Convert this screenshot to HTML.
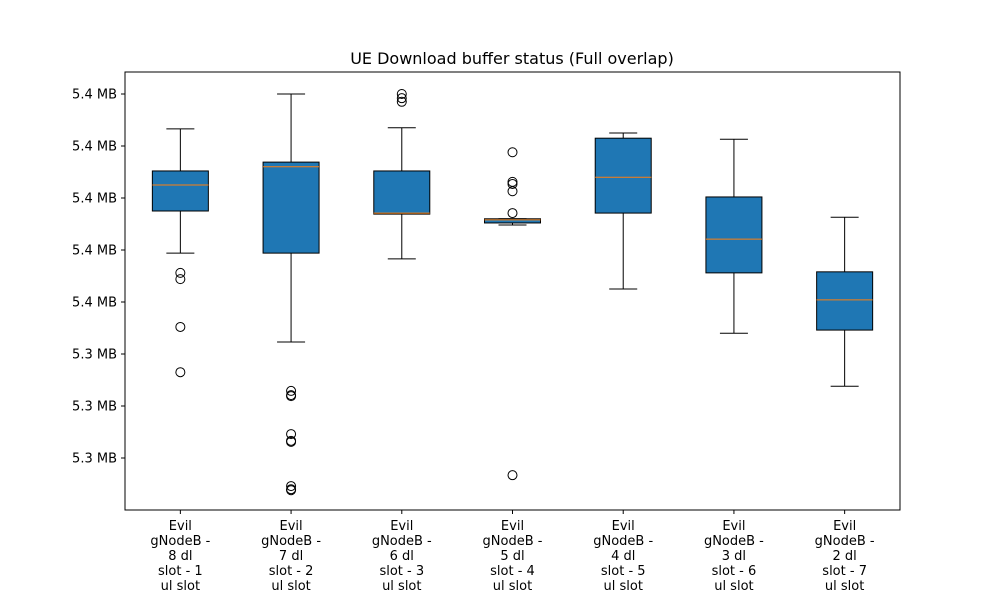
<!DOCTYPE html>
<html><head><meta charset="utf-8"><style>
body{margin:0;background:#fff;font-family:"Liberation Sans","DejaVu Sans",sans-serif}
</style></head><body>
<svg id="chart" width="1000" height="600" xmlns="http://www.w3.org/2000/svg" font-family="'DejaVu Sans','Liberation Sans',sans-serif">
<rect width="1000" height="600" fill="#fff"/>
<text x="512" y="64" text-anchor="middle" font-size="16">UE Download buffer status (Full overlap)</text>
<g id="plot"></g>
</svg>
<script>
const categories=[["Evil","gNodeB -","8 dl","slot - 1","ul slot"],["Evil","gNodeB -","7 dl","slot - 2","ul slot"],["Evil","gNodeB -","6 dl","slot - 3","ul slot"],["Evil","gNodeB -","5 dl","slot - 4","ul slot"],["Evil","gNodeB -","4 dl","slot - 5","ul slot"],["Evil","gNodeB -","3 dl","slot - 6","ul slot"],["Evil","gNodeB -","2 dl","slot - 7","ul slot"]];
const whiskerHigh=[6.33,7.0,6.35,4.6,6.25,6.13,4.63];
const q3=[5.52,5.69,5.52,4.6,6.15,5.02,3.58];
const medians=[5.25,5.6,4.71,4.58,5.4,4.21,3.04];
const q1=[4.75,3.94,4.69,4.52,4.71,3.56,2.46];
const whiskerLow=[3.94,2.23,3.83,4.48,3.25,2.4,1.38];
const outliers=[[3.56,3.44,2.52,1.65],[1.29,1.21,1.19,0.46,0.33,0.31,-0.54,-0.6,-0.62],[7.0,6.92,6.85],[5.88,5.31,5.27,5.13,4.71,-0.33],[],[],[]];
const yTickValues=[0,1,2,3,4,5,6,7];
const yTickLabels=["5.3 MB","5.3 MB","5.3 MB","5.4 MB","5.4 MB","5.4 MB","5.4 MB","5.4 MB"];
const L=125,R=900,T=72,B=510,yMin=-1.0,yMax=7.423;
const y=v=>B-(v-yMin)/(yMax-yMin)*(B-T);
const step=(R-L)/categories.length;
const x=i=>L+step*(i+0.5);
const NS="http://www.w3.org/2000/svg";
const g=document.getElementById('plot');
function mk(t,a,p){const e=document.createElementNS(NS,t);for(const k in a)e.setAttribute(k,a[k]);(p||g).appendChild(e);return e;}
categories.forEach((c,i)=>{
 const cx=x(i),hw=28,cw=14;
 const grp=mk('g',{});
 
 
 mk('line',{x1:cx,x2:cx,y1:y(whiskerHigh[i]),y2:y(q3[i]),stroke:'#000'},grp);
 mk('line',{x1:cx,x2:cx,y1:y(q1[i]),y2:y(whiskerLow[i]),stroke:'#000'},grp);
 mk('line',{x1:cx-cw,x2:cx+cw,y1:y(whiskerHigh[i]),y2:y(whiskerHigh[i]),stroke:'#000'},grp);
 mk('line',{x1:cx-cw,x2:cx+cw,y1:y(whiskerLow[i]),y2:y(whiskerLow[i]),stroke:'#000'},grp);
 mk('rect',{x:cx-hw,y:y(q3[i]),width:2*hw,height:Math.max(1,y(q1[i])-y(q3[i])),fill:'#1f77b4',stroke:'#000'},grp);
 mk('line',{x1:cx-hw,x2:cx+hw,y1:y(medians[i]),y2:y(medians[i]),stroke:'#ff7f0e'},grp);
 outliers[i].forEach(o=>{const ci=mk('circle',{cx:cx,cy:y(o),r:4.5,fill:'none',stroke:'#000'},grp);
  
  });
 mk('line',{x1:cx,x2:cx,y1:B,y2:B+4,stroke:'#000'});
 const t=mk('text',{x:cx,y:B+20,'text-anchor':'middle','font-size':13});
 
 
 c.forEach((ln,j)=>{const s=mk('tspan',{x:cx,dy:j?15:0},t);s.textContent=ln;});
});
yTickValues.forEach((v,i)=>{
 mk('line',{x1:L-4,x2:L,y1:y(v),y2:y(v),stroke:'#000'});
 const t=mk('text',{x:L-8,y:y(v)+4.5,'text-anchor':'end','font-size':13});
 
 
 t.textContent=yTickLabels[i];
});
const fr=mk('rect',{x:L,y:T,width:R-L,height:B-T,fill:'none',stroke:'#000'});


</script>
</body></html>
